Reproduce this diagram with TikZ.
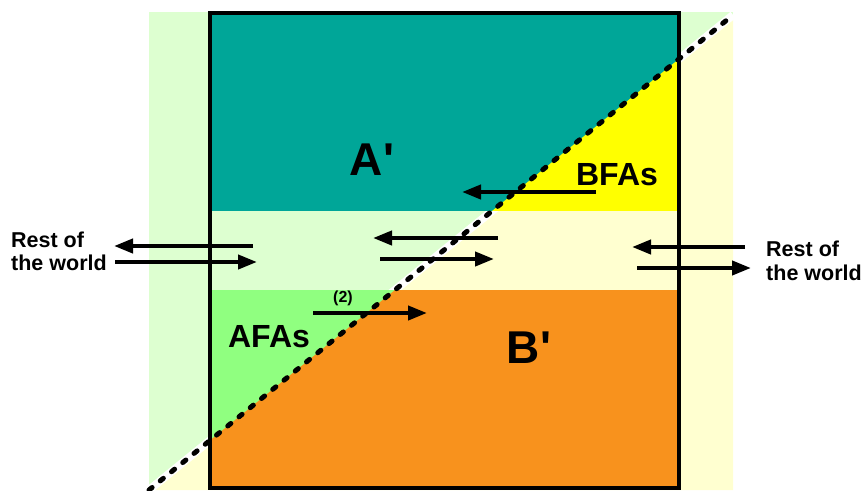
\documentclass[tikz,border=0pt]{standalone}
\usepackage{fontspec}
\setmainfont{Liberation Sans}
\usetikzlibrary{arrows.meta}
\definecolor{lgreen}{RGB}{221,255,208}
\definecolor{lyellow}{RGB}{255,255,208}
\definecolor{tealc}{RGB}{0,166,152}
\definecolor{yellowc}{RGB}{255,255,0}
\definecolor{orangec}{RGB}{248,146,29}
\definecolor{greenc}{RGB}{144,255,128}
\begin{document}
\begin{tikzpicture}[x=1pt,y=-1pt,
  lbl/.style={font=\bfseries, inner sep=0pt, anchor=base},
  big/.style={lbl, font=\fontsize{46}{50}\selectfont\bfseries},
  mid/.style={lbl, font=\fontsize{32}{36}\selectfont\bfseries},
  small/.style={lbl, font=\fontsize{16}{18}\selectfont\bfseries},
  rw/.style={lbl, anchor=base west, font=\fontsize{21.5}{24}\selectfont\bfseries},
  arr/.style={line width=4pt, -{Triangle[length=19pt,width=14pt]}},
  diag/.style={line width=5pt, line cap=round, dash pattern=on 4pt off 10.5pt}]
\useasboundingbox (0,0) rectangle (862,490);
\coordinate (D1) at (149,490);
\coordinate (D2) at (733,15);
% background light regions
\fill[lgreen] (149,12) rectangle (733,490);
\fill[lyellow] (D1) -- (D2) -- (733,490) -- cycle;
\draw[white, line width=8pt] (D1) -- (D2);
% bands
\fill[tealc] (210,13) rectangle (679,211);
\fill[greenc] (210,290) rectangle (679,488);
\begin{scope}
  \clip (D1) -- (D2) -- (733,490) -- cycle;
  \fill[yellowc] (210,13) rectangle (679,211);
  \fill[orangec] (210,290) rectangle (679,488);
\end{scope}
% dashed diagonal
\draw[diag] (D1) -- (D2);
% box
\draw[line width=4pt] (210,13) rectangle (678.5,488);
% labels
\node[big] (A) at (372,175) {A\textquotesingle};
\node[big] (B) at (529,363) {B\textquotesingle};
\node[mid] (AFAs) at (269,347) {AFAs};
\node[mid] (BFAs) at (617,185) {BFAs};
\node[small] (two) at (343,302) {(2)};
\node[rw] (rl1) at (11,247) {Rest of};
\node[rw] (rl2) at (11,270) {the world};
\node[rw] (rr1) at (766,256) {Rest of};
\node[rw] (rr2) at (766,280) {the world};
% arrow end points
\coordinate (b1) at (596,192); \coordinate (b2) at (462,192);
\coordinate (m1) at (498,238); \coordinate (m2) at (373,238);
\coordinate (m3) at (380,259); \coordinate (m4) at (494,259);
\coordinate (t1) at (313,313); \coordinate (t2) at (427,313);
\coordinate (l1) at (253,246); \coordinate (l2) at (114,246);
\coordinate (l3) at (115,262); \coordinate (l4) at (257,262);
\coordinate (r1) at (745,247); \coordinate (r2) at (632,247);
\coordinate (r3) at (637,268); \coordinate (r4) at (751,268);
\draw[arr] (b1) -- (b2);
\draw[arr] (m1) -- (m2);
\draw[arr] (m3) -- (m4);
\draw[arr] (t1) -- (t2);
\draw[arr] (l1) -- (l2);
\draw[arr] (l3) -- (l4);
\draw[arr] (r1) -- (r2);
\draw[arr] (r3) -- (r4);
\end{tikzpicture}
\end{document}
